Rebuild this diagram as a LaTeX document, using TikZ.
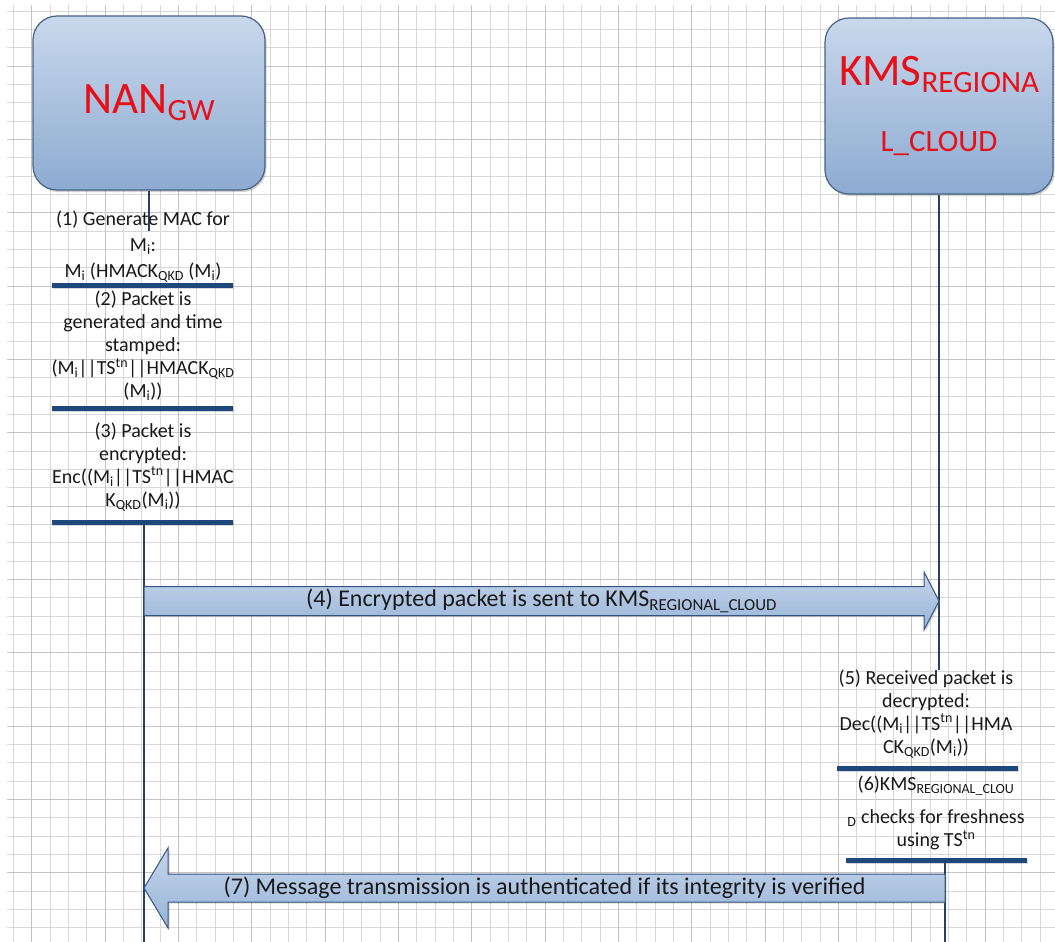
\documentclass[tikz,border=0pt]{standalone}
\usepackage{fontspec}
\setmainfont{Carlito}
\usepackage{tikz}
\usetikzlibrary{calc,shadows}
\definecolor{gridline}{RGB}{216,216,216}
\definecolor{gridmajor}{RGB}{196,196,196}
\definecolor{boxtop}{RGB}{200,216,236}
\definecolor{boxbottom}{RGB}{141,171,209}
\definecolor{boxedge}{RGB}{72,98,136}
\definecolor{arrowtop}{RGB}{198,213,234}
\definecolor{arrowbottom}{RGB}{150,180,216}
\definecolor{arrowedge}{RGB}{52,84,128}
\definecolor{barblue}{RGB}{30,72,124}
\definecolor{lifeblue}{RGB}{40,64,100}
\definecolor{labelred}{RGB}{232,16,24}

\newcommand{\tsub}[1]{\textsubscript{#1}}
\newcommand{\tsup}[1]{\textsuperscript{#1}}

\tikzset{
  entity/.style={rectangle, rounded corners=24pt, draw=boxedge, line width=1.2pt,
    top color=boxtop, bottom color=boxbottom, text=labelred, align=center, inner sep=0pt,
    drop shadow={shadow xshift=1.5pt, shadow yshift=-2pt, opacity=0.35}},
  action/.style={align=center, font=\fontsize{20}{23}\selectfont, inner sep=0pt, text=black!90},
  actbar/.style={fill=barblue, minimum width=181pt, minimum height=5pt, inner sep=0pt,
    drop shadow={shadow xshift=1pt, shadow yshift=-1.5pt, opacity=0.3}},
  lifeline/.style={draw=lifeblue, line width=1.2pt},
  msg/.style={draw=arrowedge, line width=1pt, line join=miter,
    top color=arrowtop, bottom color=arrowbottom,
    drop shadow={shadow xshift=1.5pt, shadow yshift=-1.5pt, opacity=0.3}},
  msgtext/.style={font=\fontsize{24}{28}\selectfont, inner sep=0pt, text=black!90}
}

\begin{document}
\begin{tikzpicture}[x=1pt, y=-1pt]
  \useasboundingbox (0,0) rectangle (1055,942);
  \fill[white] (0,0) rectangle (1055,942);

  %% drawing grid
  \foreach \k in {0,...,56} \draw[gridline, line width=0.8pt] ({13.4+18.333*\k},5) -- ({13.4+18.333*\k},942);
  \foreach \k in {0,...,50} \draw[gridline, line width=0.8pt] (7,{11+18.333*\k}) -- (1055,{11+18.333*\k});
  \foreach \k in {0,...,13} \draw[gridmajor, line width=0.8pt] ({31.7+73.333*\k},5) -- ({31.7+73.333*\k},942);
  \foreach \k in {0,...,12} \draw[gridmajor, line width=0.8pt] (7,{66+73.333*\k}) -- (1055,{66+73.333*\k});

  %% the two parties
  \node[entity, minimum width=232pt, minimum height=174pt] (nan) at (149,103)
    {\fontsize{45}{50}\selectfont NAN\raisebox{-7pt}{\fontsize{31}{32}\selectfont GW}};
  \node[entity, minimum width=228pt, minimum height=176pt, font=\fontsize{45}{66}\selectfont] (kms) at (939,106)
    {KMS\raisebox{-7pt}{\fontsize{31}{32}\selectfont REGIONA}\\{\fontsize{31}{32}\selectfont L\_CLOUD}};

  %% lifelines
  \coordinate (nanMid) at (149,231);
  \coordinate (nanEnd) at (144,942);
  \coordinate (kmsMid) at (939,670);
  \coordinate (kmsEnd) at (945,942);
  \draw[lifeline] (nan.south) -- (nanMid);
  \draw[lifeline] (kms.south) -- (kmsMid);

  %% steps on the gateway side
  \node[action] (act1) at (143,247) {(1) Generate MAC for\\[3pt]M\tsub{i}:\\[3pt]M\tsub{i} (HMACK\tsub{QKD} (M\tsub{i})};
  \node[actbar] (bar1) at (142.5,285) {};
  \node[action] (act2) at (143,346) {(2) Packet is\\generated and time\\stamped:\\(M\tsub{i}||TS\tsup{tn}||HMACK\tsub{QKD}\\(M\tsub{i}))};
  \node[actbar] (bar2) at (142.5,408) {};
  \node[action] (act3) at (143,467) {(3) Packet is\\encrypted:\\Enc((M\tsub{i}||TS\tsup{tn}||HMAC\\K\tsub{QKD}(M\tsub{i}))};
  \node[actbar] (bar3) at (142.5,522) {};
  \draw[lifeline] (bar3.south -| nanEnd) -- (nanEnd);

  %% steps on the cloud side
  \node[action] (act5) at (926,714) {(5) Received packet is\\decrypted:\\Dec((M\tsub{i}||TS\tsup{tn}||HMA\\CK\tsub{QKD}(M\tsub{i}))};
  \node[actbar] (bar5) at (927.5,768) {};
  \node[action] (act6) at (936,813) {(6)KMS\tsub{REGIONAL\_CLOU}\\[10pt]\tsub{D} checks for freshness\\using TS\tsup{tn}};
  \node[actbar] (bar6) at (936.5,860) {};
  \draw[lifeline] (bar6.south -| kmsEnd) -- (kmsEnd);

  %% message (4): gateway -> cloud
  \coordinate (m4a) at (nanEnd |- 0,601);
  \coordinate (m4b) at (kmsMid |- m4a);
  \draw[msg] ($(m4a)+(0,-14.5)$) -- ($(m4b)+(-15,-14.5)$) -- ($(m4b)+(-15,-29)$) -- (m4b)
    -- ($(m4b)+(-15,29)$) -- ($(m4b)+(-15,14.5)$) -- ($(m4a)+(0,14.5)$) -- cycle;
  \node[msgtext] (lbl4) at ($(m4a)!0.5!(m4b)$)
    {(4) Encrypted packet is sent to KMS\tsub{REGIONAL\_CLOUD}};

  %% message (7): cloud -> gateway
  \coordinate (m7a) at (kmsEnd |- 0,888);
  \coordinate (m7b) at (nanEnd |- m7a);
  \draw[msg] ($(m7a)+(0,-14)$) -- ($(m7b)+(24,-14)$) -- ($(m7b)+(24,-40)$) -- (m7b)
    -- ($(m7b)+(24,40)$) -- ($(m7b)+(24,14)$) -- ($(m7a)+(0,14)$) -- cycle;
  \node[msgtext] (lbl7) at ($(m7a)!0.5!(m7b)$)
    {(7) Message transmission is authenticated if its integrity is verified};
\end{tikzpicture}
\end{document}
